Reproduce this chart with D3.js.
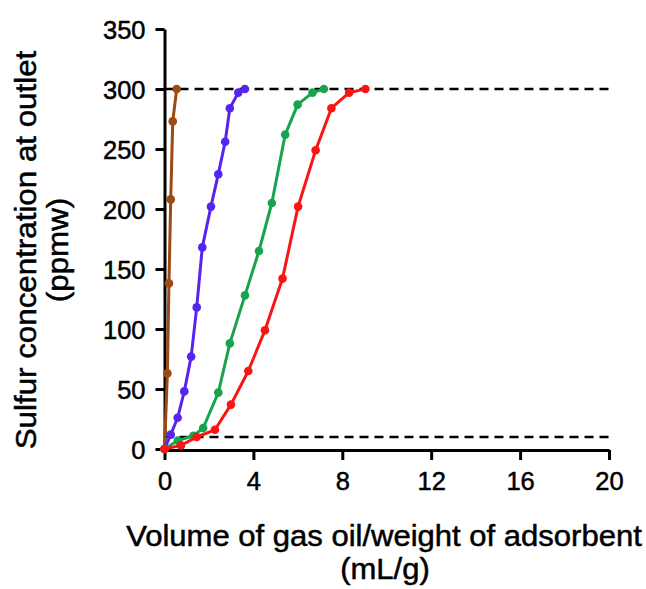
<!DOCTYPE html>
<html>
<head>
<meta charset="utf-8">
<script src="https://cdn.jsdelivr.net/npm/d3@7"></script>
<style>
  html, body { margin: 0; padding: 0; background: #fff; }
  svg { display: block; }
  text { font-family: "Liberation Sans", Arial, sans-serif; fill: #000; }
</style>
</head>
<body>
<svg id="chart" width="646" height="589"></svg>
<script>
// Breakthrough curves: outlet sulfur vs. volume of gas oil per weight of adsorbent
const xTicks = [0, 4, 8, 12, 16, 20];
const yTicks = [0, 50, 100, 150, 200, 250, 300, 350];
const refLevels = [300, 10];

const brownX  = [0, 0.13, 0.20, 0.28, 0.37, 0.55];
const brownY  = [0, 63, 138, 208, 273, 300];

const purpleX = [0, 0.28, 0.59, 0.89, 1.20, 1.45, 1.70, 2.09, 2.42, 2.73, 2.94, 3.32, 3.62];
const purpleY = [0, 12, 26, 48, 77, 118, 168, 202, 229, 256, 284, 297, 300];

const greenX  = [0, 0.60, 1.30, 1.74, 2.42, 2.94, 3.62, 4.25, 4.83, 5.43, 5.99, 6.66, 7.17];
const greenY  = [0, 7, 11, 17.5, 47, 88, 128, 165, 205, 262, 287, 297, 300];

const redX    = [0, 0.74, 1.45, 2.27, 2.99, 3.77, 4.52, 5.31, 6.01, 6.80, 7.51, 8.31, 9.04];
const redY    = [0, 3, 10, 16, 37, 65, 99, 142, 202, 249, 284, 297, 300];

const series = [
  { xs: brownX,  ys: brownY,  color: "#9a4a12" },
  { xs: purpleX, ys: purpleY, color: "#5524ee" },
  { xs: greenX,  ys: greenY,  color: "#17a34f" },
  { xs: redX,    ys: redY,    color: "#fb1414" }
];

const svg = d3.select("#chart");
const x = d3.scaleLinear().domain([0, 20]).range([164.5, 609]);
const y = d3.scaleLinear().domain([0, 350]).range([449, 29]);

// Slightly heavier glyphs for all labels
function heavy(sel) {
  sel.attr("stroke", "#000").attr("stroke-width", 0.5).attr("paint-order", "stroke");
}

// Reference levels (dashed)
svg.append("g").selectAll("line").data(refLevels).join("line")
  .attr("x1", x(0)).attr("x2", x(20))
  .attr("y1", d => y(d)).attr("y2", d => y(d))
  .attr("stroke", "#000").attr("stroke-width", 2.4)
  .attr("stroke-dasharray", "9,6");

// Axes
const yAxis = svg.append("g").attr("transform", `translate(${x(0)},0)`)
  .call(d3.axisLeft(y).tickValues(yTicks).tickSize(9).tickPadding(10).tickSizeOuter(0));
const xAxis = svg.append("g").attr("transform", `translate(0,${y(0) + 1})`)
  .call(d3.axisBottom(x).tickValues(xTicks).tickSize(10).tickPadding(12).tickSizeOuter(0));

[yAxis, xAxis].forEach(a => {
  a.select(".domain").attr("stroke", "#000").attr("stroke-width", 3);
  a.selectAll(".tick line").attr("stroke", "#000").attr("stroke-width", 3);
  a.selectAll(".tick text").style("font-size", "25.5px")
    .style("font-family", "'Liberation Sans', Arial, sans-serif").attr("fill", "#000")
    .call(heavy);
});
yAxis.selectAll(".tick text").attr("dy", "0.36em");

// Curves and markers
const line = d3.line().x(d => x(d[0])).y(d => y(d[1]));
series.forEach(s => {
  const pts = s.xs.map((v, i) => [v, s.ys[i]]);
  const g = svg.append("g");
  g.append("path").datum(pts)
    .attr("d", line).attr("fill", "none")
    .attr("stroke", s.color).attr("stroke-width", 3)
    .attr("stroke-linejoin", "round");
  g.selectAll("circle").data(pts).join("circle")
    .attr("cx", d => x(d[0])).attr("cy", d => y(d[1]))
    .attr("r", 4.3).attr("fill", s.color);
});

// Axis titles
svg.append("text")
  .attr("transform", "translate(36,250) rotate(-90) scale(1.08,1)")
  .attr("text-anchor", "middle").style("font-size", "29px")
  .text("Sulfur concentration at outlet").call(heavy);
svg.append("text")
  .attr("transform", "translate(68,250) rotate(-90) scale(1.08,1)")
  .attr("text-anchor", "middle").style("font-size", "29px")
  .text("(ppmw)").call(heavy);
svg.append("text")
  .attr("transform", "translate(384,546) scale(1.07,1)")
  .attr("text-anchor", "middle").style("font-size", "29px")
  .text("Volume of gas oil/weight of adsorbent").call(heavy);
svg.append("text")
  .attr("transform", "translate(385,579) scale(1.07,1)")
  .attr("text-anchor", "middle").style("font-size", "29px")
  .text("(mL/g)").call(heavy);
</script>
</body>
</html>
